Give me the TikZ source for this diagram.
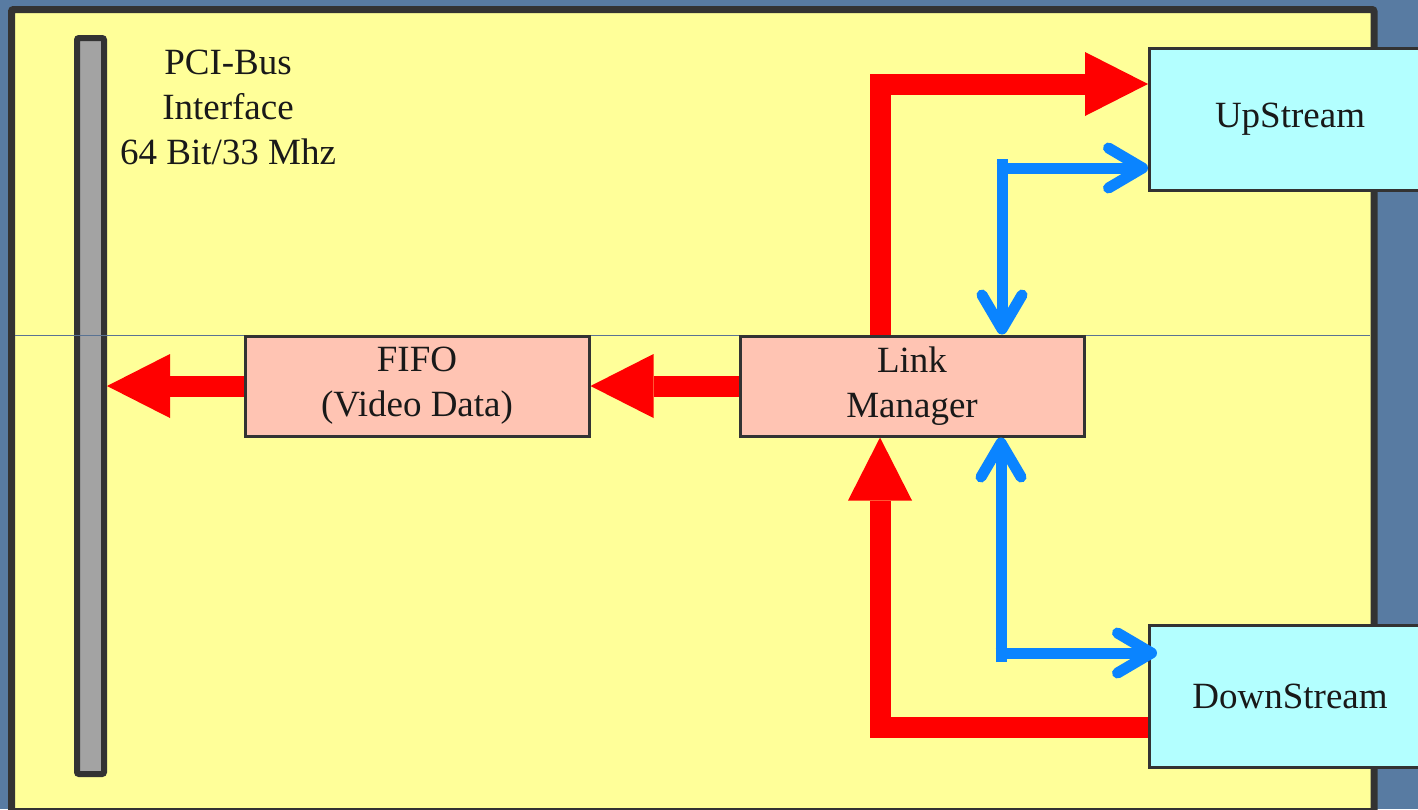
\documentclass[tikz,border=0pt]{standalone}
\usepackage{fontspec}
\setmainfont{Liberation Serif}
\usetikzlibrary{arrows.meta}

\definecolor{slide}{HTML}{587BA2}
\definecolor{frame}{HTML}{333333}
\definecolor{board}{HTML}{FFFF99}
\definecolor{busgrey}{HTML}{A3A3A3}
\definecolor{salmon}{HTML}{FFC4B3}
\definecolor{aqua}{HTML}{B3FFFF}
\definecolor{datablue}{HTML}{0A84FF}
\definecolor{rule}{HTML}{5A7394}

\begin{document}
\begin{tikzpicture}[x=1pt, y=-1pt,
    every node/.style={font=\fontsize{37}{45}\selectfont, text=black!90},
    unit/.style={draw=frame, line width=3pt, inner sep=0pt, align=center},
    redarrow/.style={red, line width=21pt, -{Triangle[length=63pt, width=64pt, line width=0pt]}},
    bluearrow/.style={datablue, line width=11pt, -{Straight Barb[length=34pt, width=40pt, round]}}]
    \fill[slide] (0,0) rectangle (1418,809);
    \clip (0,0) rectangle (1418,809);
    \draw[frame, fill=board, line width=7pt, rounded corners=2pt] (11.5,9.5) rectangle (1374,811.5);

    \node[unit, fill=busgrey, line width=6pt, rounded corners=2pt, minimum width=27pt, minimum height=736pt] (pci) at (90.5,406) {};
    \draw[rule, line width=1pt] (15,335) -- (1370,335);
    \node[align=center] (pcilabel) at (228,107) {PCI-Bus\\Interface\\64 Bit/33 Mhz};

    \node[unit, fill=salmon, minimum width=344pt, minimum height=100pt] (fifo) at (417,386) {FIFO\\(Video Data)};
    \node[unit, fill=salmon, minimum width=344pt, minimum height=100pt] (link) at (912,386) {Link\\Manager};
    \node[unit, fill=aqua, minimum width=281pt, minimum height=142pt] (up) at (1290,119) {UpStream};
    \node[unit, fill=aqua, minimum width=281pt, minimum height=142pt] (down) at (1290,696.5) {DownStream};

    % video data path
    \draw[redarrow] (link.west) -- (fifo.east);
    \draw[redarrow] (fifo.west) -- (fifo.west -| pci.east);
    \draw[redarrow] ([xshift=-32pt]link.north) |- ([yshift=35pt]up.west);
    \draw[redarrow] ([yshift=-31pt]down.west) -| ([xshift=-32pt]link.south);

    % control path
    \coordinate (upfork) at (1002,159);
    \coordinate (upbend) at (996.5,168);
    \draw[bluearrow] (upfork) -- (upfork |- link.north);
    \draw[bluearrow] (upbend) -- (upbend -| up.west);
    \coordinate (downfork) at (1001,662);
    \coordinate (downbend) at (995.5,653);
    \draw[bluearrow] (downfork) -- (downfork |- link.south);
    \draw[bluearrow, shorten >=-9pt] (downbend) -- (downbend -| down.west);
\end{tikzpicture}
\end{document}
